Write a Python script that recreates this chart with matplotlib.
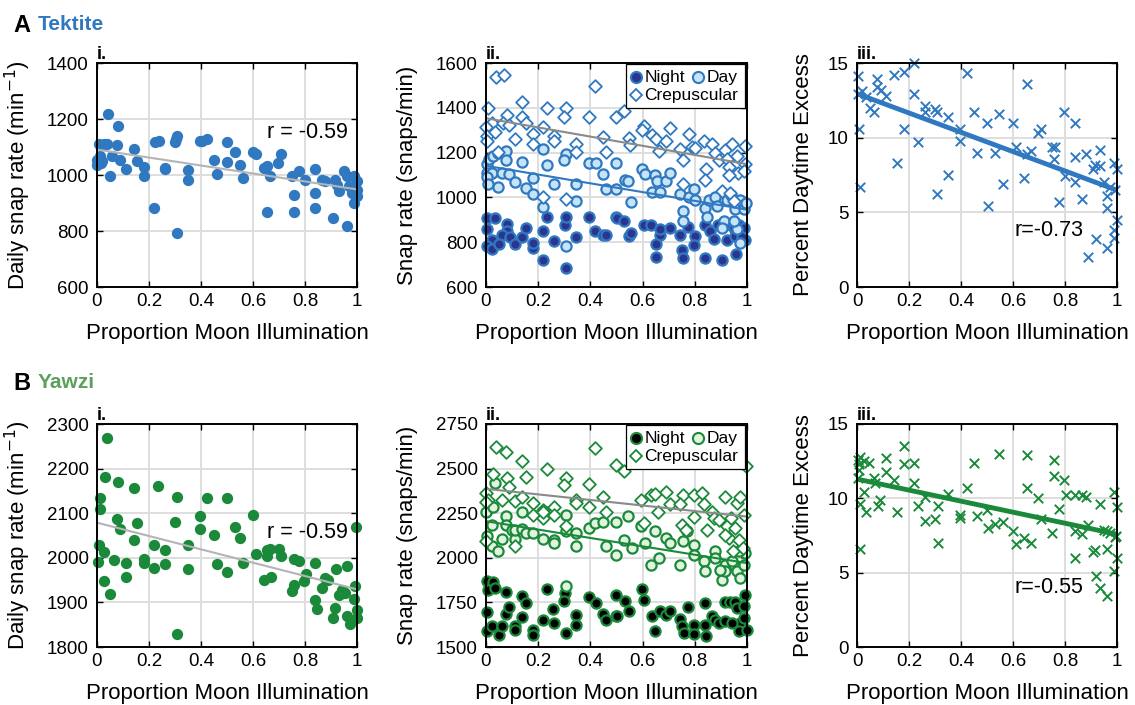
import numpy as np
import matplotlib
matplotlib.use("Agg")
from matplotlib import pyplot as plt
from matplotlib.patches import Rectangle

plt.rcParams["font.family"] = ["Liberation Sans", "DejaVu Sans"]

BLUE = "#3079c0"
BLUE_DARK = "#2b3590"
BLUE_LIGHT = "#c6e4f7"
GREEN = "#1a8a3a"
GREEN_TITLE = "#5e9f5e"
GREEN_LIGHT = "#e2f3df"
GRAY_FIT = "#b4b4b4"
GRAY_FIT2 = "#8a8a8a"

# ---- Tektite, panel i: daily snap rate ----
a_i_x = [0.0, 0.0, 0.006, 0.01, 0.015, 0.02, 0.026, 0.038, 0.041, 0.051, 0.058, 0.077,
         0.079, 0.09, 0.113, 0.141, 0.154, 0.182, 0.182, 0.22, 0.224, 0.237, 0.26, 0.262,
         0.301, 0.304, 0.308, 0.308, 0.349, 0.349, 0.395, 0.404, 0.423, 0.449, 0.462, 0.5,
         0.5, 0.532, 0.549, 0.56, 0.599, 0.612, 0.641, 0.654, 0.654, 0.667, 0.695, 0.709,
         0.75, 0.756, 0.756, 0.776, 0.801, 0.84, 0.84, 0.84, 0.865, 0.878, 0.908, 0.917,
         0.923, 0.929, 0.949, 0.962, 0.962, 0.968, 0.981, 0.987, 0.987, 1.0, 1.0, 1.0]
a_i_y = [1055, 1037, 1112, 1067, 1043, 1050, 1112, 1112, 1218, 995, 1069, 1106,
         1176, 1052, 1021, 1094, 1049, 1029, 995, 882, 1117, 1123, 1025, 1020,
         1117, 1129, 1138, 793, 1017, 983, 1120, 1120, 1129, 1055, 1005, 1117,
         1046, 1081, 1037, 989, 1081, 1076, 1025, 1031, 867, 995, 1043, 1075,
         995, 930, 867, 1016, 983, 1021, 936, 882, 983, 977, 846, 983,
         965, 942, 1013, 995, 817, 960, 936, 900, 995, 977, 948, 924]

# ---- Tektite, panel ii: snap rate by time of day ----
a_ii_night_x = [0.005, 0.034, 0.005, 0.079, 0.079, 0.06, 0.092, 0.022, 0.002, 0.022, 0.051,
                0.111, 0.139, 0.152, 0.179, 0.179, 0.22, 0.22, 0.232, 0.26, 0.302, 0.306,
                0.345, 0.306, 0.396, 0.418, 0.447, 0.46, 0.498, 0.502, 0.527, 0.547, 0.557,
                0.604, 0.634, 0.668, 0.668, 0.652, 0.652, 0.706, 0.745, 0.751, 0.754, 0.774,
                0.8, 0.796, 0.838, 0.838, 0.86, 0.874, 0.89, 0.905, 0.917, 0.923, 0.949,
                0.955, 0.958, 0.968, 0.987, 0.994, 0.981]
a_ii_night_y = [909, 909, 861, 882, 852, 834, 822, 811, 782, 770, 790,
                790, 822, 864, 776, 796, 849, 722, 912, 804, 879, 912,
                822, 685, 913, 849, 834, 834, 912, 909, 894, 827, 842,
                879, 879, 834, 857, 790, 733, 864, 830, 767, 730, 867,
                827, 787, 730, 875, 849, 816, 879, 722, 879, 812, 864,
                827, 748, 879, 864, 812, 822]
a_ii_day_x = [0.005, 0.013, 0.028, 0.047, 0.076, 0.076, 0.005, 0.022, 0.005, 0.06, 0.089,
              0.009, 0.047, 0.111, 0.139, 0.179, 0.152, 0.179, 0.22, 0.232, 0.22, 0.26,
              0.306, 0.299, 0.345, 0.345, 0.306, 0.396, 0.421, 0.447, 0.46, 0.498, 0.498,
              0.557, 0.598, 0.608, 0.649, 0.656, 0.688, 0.706, 0.534, 0.544, 0.636, 0.668,
              0.745, 0.754, 0.754, 0.777, 0.796, 0.802, 0.838, 0.845, 0.853, 0.879, 0.885,
              0.911, 0.923, 0.94, 0.953, 0.974, 0.987, 0.996, 0.974, 0.962, 0.949, 0.905]
a_ii_day_y = [1151, 1170, 1185, 1200, 1207, 1166, 1110, 1110, 1091, 1110, 1103,
              1058, 1046, 1069, 1160, 1088, 1040, 1016, 1215, 1143, 957, 1061,
              1193, 1169, 1061, 984, 785, 1155, 1155, 1106, 1036, 1036, 1155,
              979, 1125, 1106, 1100, 1073, 1073, 1110, 1076, 1073, 1025, 1024,
              1016, 939, 894, 1001, 1037, 988, 951, 912, 988, 1004, 960,
              894, 988, 1010, 946, 988, 946, 976, 797, 857, 894, 865]
a_ii_crep_x = [0.037, 0.069, 0.418, 0.009, 0.139, 0.232, 0.306, 0.079, 0.139, 0.3, 0.396,
               0.498, 0.022, 0.064, 0.09, 0.152, 0.22, 0.0, 0.002, 0.034, 0.111, 0.179,
               0.179, 0.26, 0.26, 0.345, 0.345, 0.447, 0.46, 0.047, 0.22, 0.306, 0.002,
               0.527, 0.547, 0.553, 0.604, 0.598, 0.636, 0.652, 0.662, 0.69, 0.706, 0.745,
               0.754, 0.777, 0.79, 0.802, 0.754, 0.834, 0.843, 0.84, 0.866, 0.876, 0.892,
               0.917, 0.923, 0.943, 0.962, 0.93, 0.966, 0.93, 0.994, 0.994, 0.987, 0.904,
               0.936, 0.949]
a_ii_crep_y = [1539, 1546, 1499, 1397, 1427, 1397, 1397, 1369, 1361, 1361, 1357,
               1361, 1330, 1334, 1324, 1334, 1315, 1315, 1275, 1294, 1260, 1282,
               1240, 1275, 1252, 1240, 1204, 1270, 1204, 1204, 1001, 995, 1252,
               1387, 1267, 1234, 1319, 1299, 1278, 1260, 1207, 1252, 1312, 1215,
               1166, 1282, 1225, 1219, 1058, 1252, 1125, 1076, 1237, 1200, 1166,
               1210, 1170, 1240, 1185, 1136, 1110, 1100, 1230, 1148, 1118, 1028,
               1021, 984]

# ---- Tektite, panel iii: percent daytime excess ----
a_iii_x = [0.003, 0.003, 0.019, 0.036, 0.006, 0.013, 0.051, 0.064, 0.077, 0.077, 0.092,
           0.113, 0.141, 0.154, 0.182, 0.182, 0.221, 0.221, 0.235, 0.26, 0.263, 0.301,
           0.308, 0.308, 0.349, 0.349, 0.397, 0.397, 0.423, 0.449, 0.462, 0.5, 0.504,
           0.532, 0.545, 0.56, 0.599, 0.612, 0.641, 0.654, 0.654, 0.669, 0.695, 0.709,
           0.75, 0.756, 0.763, 0.776, 0.797, 0.801, 0.84, 0.84, 0.84, 0.865, 0.882,
           0.888, 0.908, 0.917, 0.921, 0.936, 0.936, 0.949, 0.962, 0.962, 0.962, 0.974,
           0.987, 0.987, 0.99, 0.994, 1.0, 1.0]
a_iii_y = [14.1, 12.9, 13.1, 12.7, 10.6, 6.7, 12.0, 11.7, 13.9, 13.4, 13.2,
           12.8, 14.2, 8.3, 14.4, 10.6, 15.0, 12.9, 9.7, 12.1, 11.7, 11.9,
           11.7, 6.2, 11.4, 7.5, 10.6, 9.8, 14.3, 11.7, 9.0, 11.0, 5.4,
           9.0, 11.6, 6.9, 11.0, 9.4, 7.3, 13.6, 8.9, 9.1, 10.3, 10.6,
           9.4, 8.6, 9.4, 5.7, 11.7, 7.4, 11.0, 8.7, 7.0, 5.9, 8.9,
           2.0, 7.9, 8.2, 3.2, 9.2, 8.1, 7.0, 6.1, 5.3, 2.6, 6.7,
           8.3, 3.8, 3.3, 6.5, 7.9, 4.5]

# ---- Yawzi, panel i ----
b_i_x = [0.038, 0.032, 0.079, 0.141, 0.233, 0.01, 0.01, 0.308, 0.423, 0.5, 0.397,
         0.599, 0.077, 0.301, 0.154, 0.09, 0.397, 0.529, 0.997, 0.449, 0.549, 0.141,
         0.006, 0.221, 0.349, 0.026, 0.26, 0.667, 0.699, 0.654, 0.654, 0.612, 0.709,
         0.756, 0.776, 0.003, 0.064, 0.113, 0.182, 0.182, 0.26, 0.221, 0.349, 0.462,
         0.56, 0.5, 0.84, 0.921, 0.962, 0.113, 0.026, 0.641, 0.669, 0.805, 0.797,
         0.878, 0.887, 0.865, 0.756, 0.75, 0.942, 0.955, 0.929, 0.994, 0.99, 0.051,
         0.84, 0.846, 0.917, 0.908, 0.962, 0.974, 1.0, 1.0, 0.308]
b_i_y = [2268, 2182, 2171, 2157, 2161, 2134, 2109, 2137, 2135, 2135, 2093,
         2095, 2087, 2081, 2078, 2064, 2064, 2068, 2068, 2051, 2045, 2039,
         2029, 2029, 2029, 2014, 2018, 2019, 2019, 2018, 2003, 2008, 2004,
         1997, 1992, 1990, 1996, 1988, 1997, 1988, 1986, 1978, 1975, 1986,
         1988, 1969, 1988, 1975, 1982, 1958, 1949, 1951, 1958, 1963, 1947,
         1955, 1951, 1932, 1940, 1925, 1928, 1921, 1917, 1936, 1908, 1919,
         1906, 1885, 1887, 1865, 1870, 1852, 1882, 1865, 1830]

# ---- Yawzi, panel ii ----
b_ii_night_x = [0.005, 0.028, 0.009, 0.034, 0.076, 0.139, 0.152, 0.232, 0.302, 0.002, 0.076,
                0.089, 0.139, 0.257, 0.297, 0.002, 0.022, 0.051, 0.06, 0.111, 0.111, 0.179,
                0.179, 0.22, 0.26, 0.306, 0.345, 0.345, 0.396, 0.421, 0.449, 0.46, 0.498,
                0.498, 0.531, 0.547, 0.502, 0.598, 0.604, 0.636, 0.649, 0.668, 0.69, 0.706,
                0.745, 0.751, 0.758, 0.774, 0.796, 0.796, 0.838, 0.838, 0.843, 0.866, 0.879,
                0.892, 0.915, 0.917, 0.936, 0.955, 0.962, 0.974, 0.968, 0.987, 0.994, 0.987,
                1.0, 0.943]
b_ii_night_y = [1871, 1867, 1821, 1830, 1806, 1784, 1747, 1825, 1802, 1694, 1685,
                1722, 1666, 1715, 1756, 1588, 1616, 1565, 1616, 1616, 1597, 1597,
                1569, 1653, 1634, 1578, 1681, 1622, 1778, 1747, 1685, 1650, 1789,
                1674, 1759, 1700, 1674, 1825, 1765, 1674, 1588, 1700, 1681, 1700,
                1659, 1616, 1578, 1722, 1622, 1574, 1747, 1625, 1560, 1674, 1653,
                1634, 1644, 1751, 1751, 1751, 1719, 1634, 1588, 1662, 1793, 1728,
                1597, 1634]
b_ii_day_x = [0.034, 0.0, 0.028, 0.022, 0.002, 0.022, 0.047, 0.06, 0.076, 0.076, 0.098,
              0.111, 0.112, 0.139, 0.139, 0.153, 0.181, 0.22, 0.22, 0.232, 0.26, 0.26,
              0.306, 0.306, 0.306, 0.345, 0.345, 0.396, 0.418, 0.449, 0.46, 0.498, 0.498,
              0.544, 0.559, 0.527, 0.595, 0.61, 0.649, 0.662, 0.633, 0.688, 0.706, 0.745,
              0.754, 0.771, 0.796, 0.796, 0.834, 0.838, 0.879, 0.879, 0.917, 0.904, 0.917,
              0.949, 0.962, 0.974, 0.987, 0.994, 0.943, 0.968, 0.898]
b_ii_day_y = [2418, 2259, 2287, 2185, 2120, 2064, 2039, 2104, 2232, 2185, 2157,
              2106, 2157, 2259, 2162, 2138, 2138, 2104, 2232, 2259, 2101, 2082,
              2241, 2148, 1840, 2138, 2064, 2166, 2194, 2203, 2064, 2017, 2199,
              2232, 2054, 2101, 2176, 2082, 2148, 1999, 1962, 2110, 2082, 1958,
              2092, 2148, 2073, 2017, 1980, 1927, 2036, 1999, 1962, 1877, 1924,
              1962, 1924, 1887, 1962, 2027, 1980, 2036, 1933]
b_ii_crep_x = [0.037, 0.077, 0.418, 0.139, 0.028, 0.232, 0.306, 0.3, 0.152, 0.079, 0.089,
               0.396, 0.498, 0.0, 0.009, 0.0, 0.06, 0.111, 0.139, 0.179, 0.179, 0.22,
               0.22, 0.26, 0.26, 0.345, 0.345, 0.306, 0.396, 0.447, 0.46, 0.0, 0.111,
               0.22, 0.527, 0.606, 0.595, 0.633, 0.649, 0.659, 0.69, 0.706, 0.754, 0.751,
               0.745, 0.766, 0.796, 0.796, 0.827, 0.834, 0.845, 0.866, 0.872, 0.892, 0.915,
               0.923, 0.93, 0.94, 0.955, 0.962, 0.974, 0.987, 0.996, 0.968, 0.983, 0.945,
               0.917]
b_ii_crep_y = [2619, 2595, 2614, 2545, 2468, 2496, 2446, 2409, 2455, 2450, 2399,
               2412, 2521, 2362, 2325, 2312, 2325, 2319, 2343, 2306, 2241, 2269,
               2222, 2287, 2241, 2325, 2306, 2179, 2287, 2343, 2259, 2095, 2067,
               2254, 2487, 2194, 2325, 2353, 2356, 2259, 2371, 2300, 2353, 2186,
               2300, 2157, 2226, 2353, 2362, 2300, 2157, 2259, 2222, 2213, 2343,
               2176, 2111, 2222, 2166, 2306, 2343, 2241, 2512, 2102, 2055, 2036,
               2129]

# ---- Yawzi, panel iii ----
b_iii_x = [0.003, 0.006, 0.006, 0.003, 0.013, 0.026, 0.045, 0.013, 0.026, 0.036, 0.01,
           0.064, 0.071, 0.079, 0.09, 0.113, 0.113, 0.141, 0.154, 0.182, 0.182, 0.221,
           0.221, 0.235, 0.26, 0.263, 0.301, 0.31, 0.31, 0.349, 0.397, 0.397, 0.423,
           0.449, 0.462, 0.5, 0.504, 0.532, 0.545, 0.56, 0.599, 0.612, 0.641, 0.654,
           0.654, 0.669, 0.695, 0.709, 0.75, 0.756, 0.756, 0.776, 0.797, 0.805, 0.84,
           0.84, 0.84, 0.865, 0.865, 0.882, 0.888, 0.908, 0.917, 0.921, 0.936, 0.936,
           0.949, 0.962, 0.962, 0.962, 0.974, 0.987, 0.99, 0.994, 1.0, 1.0, 0.997]
b_iii_y = [12.6, 12.3, 11.9, 11.4, 12.8, 12.5, 12.4, 9.6, 10.4, 9.1, 6.6,
           11.4, 11.0, 9.5, 9.9, 12.7, 11.8, 11.2, 9.1, 13.5, 12.3, 12.4,
           11.0, 9.5, 8.5, 10.1, 8.6, 9.5, 7.0, 10.3, 8.9, 8.7, 10.7,
           12.4, 8.8, 9.2, 8.0, 8.3, 13.0, 8.4, 7.8, 6.9, 7.3, 12.9,
           10.7, 7.0, 10.0, 8.6, 7.7, 12.6, 11.5, 9.3, 11.2, 10.2, 10.2,
           7.8, 6.0, 10.2, 7.6, 10.1, 8.2, 6.4, 6.5, 4.8, 9.6, 4.0,
           7.9, 7.8, 6.6, 3.4, 7.7, 10.4, 5.1, 7.4, 9.4, 6.0, 7.5]

x_ticks = [0, 0.2, 0.4, 0.6, 0.8, 1]
x_tick_labels = ["0", "0.2", "0.4", "0.6", "0.8", "1"]
XLABEL = "Proportion Moon Illumination"


def fit_line(ax, x, y, color, lw):
    slope, icpt = np.polyfit(x, y, 1)
    xs = np.array([0.0, 1.0])
    ax.plot(xs, icpt + slope * xs, color=color, lw=lw, zorder=6, solid_capstyle="butt")


def style_axes(ax, ylim, yticks, ylabel, ylabel_x, tag):
    ax.set_xlim(0, 1)
    ax.set_ylim(*ylim)
    ax.set_xticks(x_ticks)
    ax.set_xticklabels(x_tick_labels)
    ax.set_yticks(yticks)
    ax.set_yticklabels([f"{t:g}" for t in yticks])
    ax.grid(color="#dedede", lw=1.4, zorder=0)
    ax.set_axisbelow(True)
    for sp in ax.spines.values():
        sp.set_linewidth(1.4)
        sp.set_zorder(10)
    ax.tick_params(direction="in", length=4.5, width=1.0, top=True, right=True,
                   labelsize=13.5, pad=4.5)
    ax.tick_params(axis="y", pad=6)
    ax.set_xlabel(XLABEL, fontsize=16)
    ax.set_ylabel(ylabel, fontsize=16)
    ax.xaxis.set_label_coords(0.5, -0.16)
    ax.yaxis.set_label_coords(ylabel_x, 0.5)
    ax.text(0.0, 1.0, tag, transform=ax.transAxes, ha="left", va="bottom",
            fontsize=13, fontweight="bold")


def legend_box(ax, night_face, night_edge, day_face, edge):
    ax.add_patch(Rectangle((0.536, 0.80), 0.456, 0.197, transform=ax.transAxes,
                           facecolor="white", edgecolor="black", lw=0.9, zorder=11))
    kw = dict(transform=ax.transAxes, zorder=12, clip_on=False)
    ax.plot([0.575], [0.937], "o", ms=8, mfc=night_face, mec=night_edge, mew=1.5, **kw)
    ax.plot([0.812], [0.937], "o", ms=8, mfc=day_face, mec=edge, mew=1.5, **kw)
    ax.plot([0.575], [0.855], "D", ms=6.5, mfc="white", mec=edge, mew=1.3, **kw)
    tkw = dict(transform=ax.transAxes, fontsize=12.5, va="center", ha="left", zorder=12)
    ax.text(0.607, 0.935, "Night", **tkw)
    ax.text(0.846, 0.935, "Day", **tkw)
    ax.text(0.607, 0.853, "Crepuscular", **tkw)


fig = plt.figure(figsize=(11.35, 7.05), dpi=100)
W, H = 1135, 705


def add_ax(left, top, right, bottom):
    return fig.add_axes([left / W, 1 - bottom / H, (right - left) / W, (bottom - top) / H])


ax_ai = add_ax(97, 63, 357, 287)
ax_aii = add_ax(486, 63, 747, 287)
ax_aiii = add_ax(857, 63, 1117, 287)
ax_bi = add_ax(97, 424, 357, 647)
ax_bii = add_ax(486, 424, 747, 647)
ax_biii = add_ax(857, 424, 1117, 647)

# row A
ax_ai.scatter(a_i_x, a_i_y, s=66, color=BLUE, lw=0, zorder=5, clip_on=False)
fit_line(ax_ai, a_i_x, a_i_y, GRAY_FIT, 1.5)
ax_ai.text(0.965, 1150, "r = -0.59", ha="right", va="center", fontsize=15.5)
style_axes(ax_ai, (600, 1400), [600, 800, 1000, 1200, 1400],
           "Daily snap rate (min$^{-1}$)", -0.245, "i.")

ax_aii.scatter(a_ii_night_x, a_ii_night_y, s=54, facecolor=BLUE_DARK, edgecolor=BLUE,
               lw=1.6, zorder=5, clip_on=False)
ax_aii.scatter(a_ii_day_x, a_ii_day_y, s=54, facecolor=BLUE_LIGHT, edgecolor=BLUE,
               lw=1.6, zorder=5, clip_on=False)
ax_aii.scatter(a_ii_crep_x, a_ii_crep_y, s=42, marker="D", facecolor="white",
               edgecolor=BLUE, lw=1.3, zorder=5, clip_on=False)
fit_line(ax_aii, a_ii_crep_x, a_ii_crep_y, GRAY_FIT2, 1.5)
fit_line(ax_aii, a_ii_day_x, a_ii_day_y, BLUE, 1.5)
style_axes(ax_aii, (600, 1600), [600, 800, 1000, 1200, 1400, 1600],
           "Snap rate (snaps/min)", -0.26, "ii.")
legend_box(ax_aii, BLUE_DARK, BLUE, BLUE_LIGHT, BLUE)

ax_aiii.scatter(a_iii_x, a_iii_y, s=46, marker="x", color=BLUE, lw=1.4, zorder=5,
                clip_on=False)
fit_line(ax_aiii, a_iii_x, a_iii_y, BLUE, 3.5)
ax_aiii.text(0.87, 3.8, "r=-0.73", ha="right", va="center", fontsize=15.5)
style_axes(ax_aiii, (0, 15), [0, 5, 10, 15], "Percent Daytime Excess", -0.165, "iii.")

# row B
ax_bi.scatter(b_i_x, b_i_y, s=66, color=GREEN, lw=0, zorder=5, clip_on=False)
fit_line(ax_bi, b_i_x, b_i_y, GRAY_FIT, 1.5)
ax_bi.text(0.965, 2056, "r = -0.59", ha="right", va="center", fontsize=15.5)
style_axes(ax_bi, (1800, 2300), [1800, 1900, 2000, 2100, 2200, 2300],
           "Daily snap rate (min$^{-1}$)", -0.245, "i.")

ax_bii.scatter(b_ii_night_x, b_ii_night_y, s=54, facecolor="black", edgecolor=GREEN,
               lw=1.6, zorder=5, clip_on=False)
ax_bii.scatter(b_ii_day_x, b_ii_day_y, s=54, facecolor=GREEN_LIGHT, edgecolor=GREEN,
               lw=1.6, zorder=5, clip_on=False)
ax_bii.scatter(b_ii_crep_x, b_ii_crep_y, s=42, marker="D", facecolor="white",
               edgecolor=GREEN, lw=1.3, zorder=5, clip_on=False)
fit_line(ax_bii, b_ii_crep_x, b_ii_crep_y, GRAY_FIT2, 1.5)
fit_line(ax_bii, b_ii_day_x, b_ii_day_y, GREEN, 1.5)
style_axes(ax_bii, (1500, 2750), [1500, 1750, 2000, 2250, 2500, 2750],
           "Snap rate (snaps/min)", -0.26, "ii.")
legend_box(ax_bii, "black", GREEN, GREEN_LIGHT, GREEN)

ax_biii.scatter(b_iii_x, b_iii_y, s=46, marker="x", color=GREEN, lw=1.4, zorder=5,
                clip_on=False)
fit_line(ax_biii, b_iii_x, b_iii_y, GREEN, 3.5)
ax_biii.text(0.87, 4.0, "r=-0.55", ha="right", va="center", fontsize=15.5)
style_axes(ax_biii, (0, 15), [0, 5, 10, 15], "Percent Daytime Excess", -0.165, "iii.")

# section headers
fig.text(13 / W, 1 - 25 / H, "A", fontsize=17, fontweight="bold", va="center", ha="left")
fig.text(38 / W, 1 - 25 / H, "Tektite", fontsize=15, fontweight="bold", color=BLUE,
         va="center", ha="left")
fig.text(13 / W, 1 - 383 / H, "B", fontsize=17, fontweight="bold", va="center", ha="left")
fig.text(38 / W, 1 - 383 / H, "Yawzi", fontsize=15, fontweight="bold", color=GREEN_TITLE,
         va="center", ha="left")

fig.savefig("out.png", dpi=100, facecolor="white")
